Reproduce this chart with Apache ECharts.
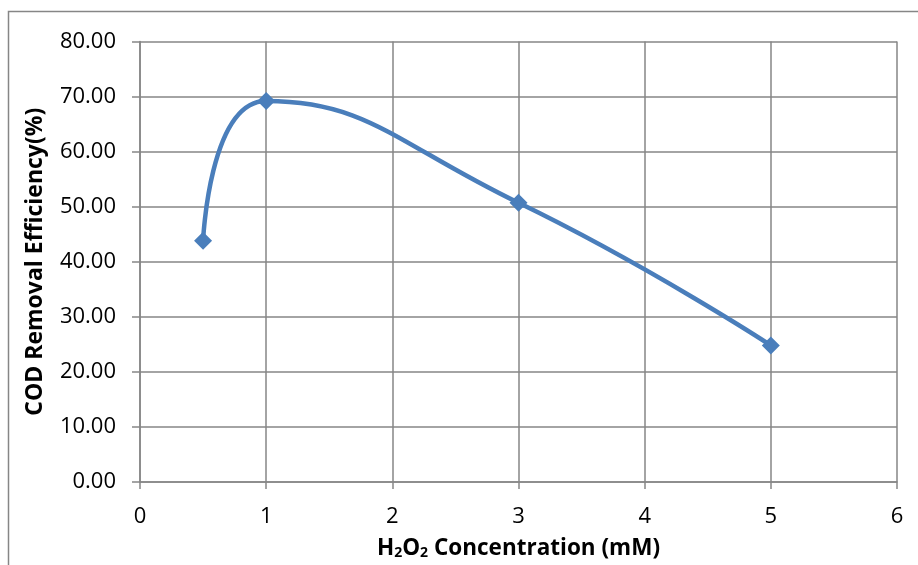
<!DOCTYPE html>
<html>
<head>
<meta charset="utf-8">
<script src="https://cdn.jsdelivr.net/npm/echarts@6/dist/echarts.min.js"></script>
<style>
  html, body { margin: 0; padding: 0; background: #fff; }
  #chart { width: 918px; height: 565px; }
</style>
</head>
<body>
<div id="chart"></div>
<script>
"use strict";
// H2O2 dose (mM) vs COD removal (%)
var concentration = [0.5, 1, 3, 5];
var codRemoval = [43.8, 69.2, 50.7, 24.8];
var xTicks = [0, 1, 2, 3, 4, 5, 6];
var yTicks = [0, 10, 20, 30, 40, 50, 60, 70, 80];

var gridGray = '#868686';
var lineBlue = '#4A7EBB';
var font = '"Open Sans", "Liberation Sans", sans-serif';

var points = concentration.map(function (c, i) { return [c, codRemoval[i]]; });

var chart = echarts.init(document.getElementById('chart'));
chart.setOption({
  animation: false,
  grid: { left: 140, right: 21, top: 41.5, bottom: 82.5 },
  graphic: [{
    type: 'polyline',
    shape: { points: [[8.5, 565], [8.5, 11.5], [918, 11.5]] },
    style: { stroke: gridGray, lineWidth: 1.5, fill: null }
  }],
  xAxis: {
    type: 'value',
    min: xTicks[0], max: xTicks[xTicks.length - 1], interval: 1,
    name: '{t|H}{s|2}{t|O}{s|2}{t| Concentration (mM)}',
    nameLocation: 'middle', nameGap: 55,
    nameTextStyle: {
      rich: {
        t: { fontFamily: font, fontSize: 22.5, fontWeight: 'bold', color: '#000' },
        s: { fontFamily: font, fontSize: 14, fontWeight: 'bold', color: '#000', verticalAlign: 'bottom', padding: [7, 0, 0, 0] }
      }
    },
    axisLine: { lineStyle: { color: gridGray, width: 1.5 } },
    axisTick: { show: true, length: 7, lineStyle: { color: gridGray, width: 1.5 } },
    axisLabel: { margin: 24, fontFamily: font, fontSize: 22, color: '#000' },
    splitLine: { show: true, lineStyle: { color: gridGray, width: 1.5 } }
  },
  yAxis: {
    type: 'value',
    min: yTicks[0], max: yTicks[yTicks.length - 1], interval: 10,
    name: 'COD Removal Efficiency(%)',
    nameLocation: 'middle', nameGap: 93,
    nameTextStyle: { fontFamily: font, fontSize: 23, fontWeight: 'bold', color: '#000' },
    axisLine: { show: true, lineStyle: { color: gridGray, width: 1.5 } },
    axisTick: { show: true, length: 8, lineStyle: { color: gridGray, width: 1.5 } },
    axisLabel: {
      margin: 24, fontFamily: font, fontSize: 22, color: '#000',
      formatter: function (v) { return v.toFixed(2); }
    },
    splitLine: { show: true, lineStyle: { color: gridGray, width: 1.5 } }
  },
  series: [{
    type: 'line',
    data: points,
    smooth: 0.5,
    symbol: 'diamond',
    symbolSize: 18,
    lineStyle: { color: lineBlue, width: 4.5 },
    itemStyle: { color: lineBlue }
  }]
});
</script>
</body>
</html>
